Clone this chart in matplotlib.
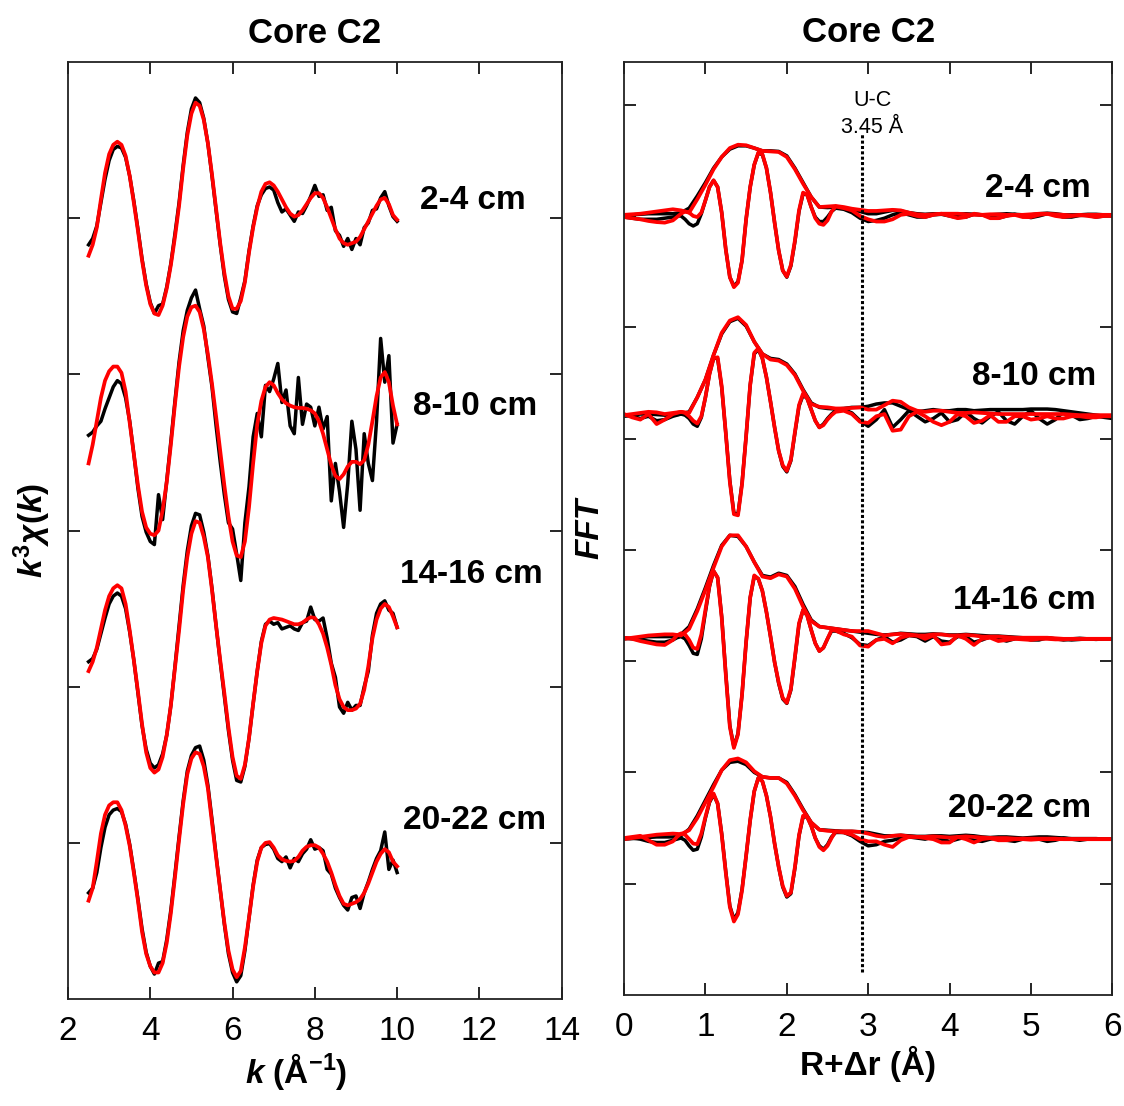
import numpy as np
import matplotlib
matplotlib.use("Agg")
import matplotlib.pyplot as plt

plt.rcParams['font.family'] = ['Liberation Sans', 'DejaVu Sans']
plt.rcParams['mathtext.fontset'] = 'custom'
plt.rcParams['mathtext.rm'] = 'Liberation Sans:bold'
plt.rcParams['mathtext.it'] = 'Liberation Sans:italic:bold'
plt.rcParams['mathtext.bf'] = 'Liberation Sans:bold'

# ---------------- data ----------------
samples = ["2-4 cm", "8-10 cm", "14-16 cm", "20-22 cm"]

# k grid 2.5 .. 10.0 step 0.1 (76 points)
k = np.round(np.arange(2.5, 10.001, 0.1), 2)
chi_offsets = [5.0, 3.65, 2.25, 0.85]

chi_fit_2_4 = [
    -0.24, -0.17, -0.06, 0.12, 0.29, 0.41, 0.47, 0.49, 0.47, 0.40,
    0.27, 0.10, -0.08, -0.27, -0.43, -0.55, -0.61, -0.62, -0.56, -0.45,
    -0.30, -0.12, 0.08, 0.32, 0.53, 0.67, 0.74, 0.72, 0.63, 0.48,
    0.28, 0.06, -0.16, -0.35, -0.50, -0.58, -0.58, -0.53, -0.41, -0.22,
    -0.06, 0.07, 0.17, 0.22, 0.23, 0.21, 0.17, 0.12, 0.07, 0.03,
    0.01, 0.02, 0.05, 0.09, 0.13, 0.16, 0.16, 0.13, 0.07, 0.00,
    -0.07, -0.13, -0.16, -0.17, -0.16, -0.15, -0.12, -0.07, -0.02, 0.03,
    0.08, 0.12, 0.13, 0.09, 0.02, -0.01]
chi_dat_2_4 = [
    -0.17, -0.13, -0.05, 0.10, 0.25, 0.37, 0.44, 0.46, 0.45, 0.39,
    0.27, 0.11, -0.07, -0.26, -0.42, -0.54, -0.61, -0.56, -0.55, -0.44,
    -0.29, -0.10, 0.10, 0.34, 0.55, 0.70, 0.77, 0.74, 0.64, 0.48,
    0.27, 0.05, -0.17, -0.37, -0.52, -0.60, -0.61, -0.51, -0.40, -0.21,
    -0.05, 0.08, 0.15, 0.19, 0.20, 0.18, 0.10, 0.04, 0.06, 0.02,
    -0.02, 0.04, 0.03, 0.08, 0.14, 0.21, 0.14, 0.15, 0.05, 0.07,
    -0.08, -0.11, -0.18, -0.13, -0.20, -0.13, -0.17, -0.06, -0.03, 0.05,
    0.06, 0.13, 0.17, 0.08, 0.01, -0.02]

chi_fit_8_10 = [
    -0.22, -0.10, 0.05, 0.20, 0.31, 0.37, 0.40, 0.40, 0.36, 0.24,
    0.04, -0.16, -0.36, -0.53, -0.63, -0.67, -0.68, -0.65, -0.52, -0.34,
    -0.10, 0.16, 0.40, 0.59, 0.72, 0.78, 0.79, 0.75, 0.64, 0.48,
    0.29, 0.08, -0.14, -0.36, -0.56, -0.72, -0.81, -0.82, -0.72, -0.50,
    -0.22, 0.03, 0.18, 0.27, 0.30, 0.28, 0.23, 0.19, 0.165, 0.15,
    0.14, 0.135, 0.135, 0.13, 0.12, 0.10, 0.05, -0.03, -0.13, -0.23,
    -0.30, -0.32, -0.29, -0.24, -0.21, -0.21, -0.225, -0.20, -0.10, 0.05,
    0.21, 0.33, 0.365, 0.30, 0.15, 0.03]
chi_dat_8_10 = [
    -0.04, -0.02, 0.02, 0.05, 0.13, 0.20, 0.27, 0.31, 0.29, 0.20,
    0.05, -0.16, -0.38, -0.56, -0.66, -0.72, -0.74, -0.42, -0.58, -0.33,
    -0.08, 0.18, 0.43, 0.63, 0.76, 0.84, 0.89, 0.77, 0.66, 0.46,
    0.27, 0.02, -0.21, -0.42, -0.60, -0.64, -0.80, -0.97, -0.60, -0.37,
    -0.05, 0.10, -0.05, 0.28, 0.24, 0.32, 0.42, 0.17, 0.25, 0.02,
    -0.03, 0.33, 0.03, 0.16, 0.14, 0.02, 0.14, 0.00, 0.08, -0.46,
    -0.22, -0.40, -0.63, -0.35, 0.05, -0.13, -0.52, -0.03, -0.22, -0.33,
    0.05, 0.58, 0.30, 0.47, -0.09, 0.03]

chi_fit_14_16 = [
    -0.15, -0.09, 0.00, 0.12, 0.24, 0.33, 0.38, 0.40, 0.38, 0.28,
    0.11, -0.08, -0.28, -0.49, -0.67, -0.77, -0.80, -0.78, -0.70, -0.56,
    -0.37, -0.13, 0.11, 0.37, 0.58, 0.73, 0.81, 0.80, 0.71, 0.58,
    0.37, 0.14, -0.08, -0.29, -0.51, -0.70, -0.82, -0.84, -0.75, -0.58,
    -0.36, -0.15, 0.03, 0.14, 0.18, 0.19, 0.185, 0.18, 0.17, 0.16,
    0.15, 0.15, 0.16, 0.18, 0.195, 0.19, 0.15, 0.09, 0.00, -0.11,
    -0.24, -0.33, -0.38, -0.40, -0.40, -0.39, -0.36, -0.27, -0.12, 0.06,
    0.18, 0.25, 0.28, 0.26, 0.20, 0.13]
chi_dat_14_16 = [
    -0.09, -0.07, -0.01, 0.09, 0.19, 0.28, 0.33, 0.35, 0.33, 0.25,
    0.10, -0.08, -0.29, -0.50, -0.65, -0.74, -0.77, -0.75, -0.68, -0.56,
    -0.37, -0.12, 0.14, 0.40, 0.62, 0.78, 0.86, 0.85, 0.74, 0.59,
    0.38, 0.14, -0.09, -0.31, -0.53, -0.72, -0.85, -0.86, -0.76, -0.58,
    -0.36, -0.15, 0.04, 0.15, 0.17, 0.15, 0.16, 0.12, 0.13, 0.14,
    0.12, 0.11, 0.16, 0.17, 0.26, 0.18, 0.17, 0.19, 0.06, -0.10,
    -0.19, -0.38, -0.42, -0.35, -0.40, -0.37, -0.37, -0.25, -0.15, 0.08,
    0.22, 0.28, 0.30, 0.24, 0.22, 0.13]

chi_fit_20_22 = [
    -0.22, -0.14, 0.03, 0.21, 0.33, 0.39, 0.41, 0.41, 0.36, 0.26,
    0.13, -0.04, -0.22, -0.42, -0.56, -0.64, -0.68, -0.68, -0.62, -0.49,
    -0.30, -0.07, 0.17, 0.40, 0.59, 0.69, 0.73, 0.72, 0.64, 0.50,
    0.28, 0.06, -0.15, -0.36, -0.54, -0.66, -0.71, -0.67, -0.52, -0.33,
    -0.13, 0.03, 0.12, 0.15, 0.155, 0.12, 0.07, 0.045, 0.035, 0.03,
    0.035, 0.06, 0.10, 0.125, 0.135, 0.135, 0.12, 0.08, 0.03, -0.04,
    -0.12, -0.19, -0.24, -0.25, -0.24, -0.23, -0.21, -0.17, -0.11, -0.04,
    0.03, 0.08, 0.11, 0.09, 0.03, 0.00]
chi_dat_20_22 = [
    -0.17, -0.14, -0.04, 0.12, 0.25, 0.33, 0.36, 0.37, 0.35, 0.27,
    0.14, -0.03, -0.21, -0.40, -0.55, -0.64, -0.69, -0.62, -0.61, -0.47,
    -0.28, -0.05, 0.19, 0.42, 0.61, 0.71, 0.76, 0.77, 0.68, 0.52,
    0.30, 0.07, -0.15, -0.37, -0.56, -0.68, -0.74, -0.70, -0.54, -0.33,
    -0.12, 0.04, 0.12, 0.14, 0.145, 0.11, 0.05, 0.03, 0.06, -0.01,
    0.05, 0.03, 0.08, 0.11, 0.17, 0.11, 0.12, 0.10, -0.02, -0.05,
    -0.14, -0.20, -0.25, -0.28, -0.20, -0.19, -0.27, -0.17, -0.10, -0.02,
    0.05, 0.10, 0.22, -0.02, 0.04, -0.04]

# R grids for Fourier transform
R_mag = np.round(np.arange(0.0, 6.001, 0.1), 3)                      # 61
R_im = np.round(np.concatenate([np.arange(0.0, 0.601, 0.1),
                                np.arange(0.65, 2.601, 0.05),
                                np.arange(2.7, 6.001, 0.1)]), 3)      # 81
ft_offsets = [7.0, 5.2, 3.2, 1.4]

mag_fit_2_4 = [
    0.01, 0.015, 0.02, 0.03, 0.04, 0.05, 0.06, 0.05, 0.03, 0.15,
    0.28, 0.42, 0.53, 0.61, 0.64, 0.635, 0.61, 0.585, 0.58, 0.575,
    0.53, 0.42, 0.29, 0.17, 0.08, 0.085, 0.09, 0.08, 0.065, 0.055,
    0.045, 0.045, 0.05, 0.055, 0.05, 0.03, 0.015, 0.01, 0.015, 0.02,
    0.02, 0.02, 0.015, 0.01, 0.01, 0.015, 0.015, 0.01, 0.01, 0.01,
    0.015, 0.02, 0.02, 0.015, 0.01, 0.005, 0.005, 0.01, 0.01, 0.01,
    0.01]
mag_dat_2_4 = [
    0.01, 0.01, 0.015, 0.02, 0.02, 0.02, 0.02, 0.03, 0.07, 0.18,
    0.30, 0.43, 0.53, 0.60, 0.63, 0.63, 0.61, 0.585, 0.585, 0.58,
    0.54, 0.43, 0.30, 0.17, 0.08, 0.075, 0.08, 0.07, 0.06, 0.04,
    0.02, 0.02, 0.035, 0.05, 0.045, 0.03, 0.02, 0.015, 0.02, 0.02,
    0.015, 0.015, 0.02, 0.015, 0.01, 0.01, 0.015, 0.02, 0.015, 0.01,
    0.01, 0.02, 0.025, 0.02, 0.01, 0.01, 0.01, 0.015, 0.015, 0.01,
    0.005]
im_fit_2_4 = [
    -0.01, -0.02, -0.03, -0.045, -0.055, -0.06, -0.04,
    -0.01, 0.02, 0.04, 0.03, 0.0, -0.01, 0.03, 0.14, 0.26, 0.32,
    0.26, 0.03, -0.30, -0.55, -0.64, -0.60, -0.40, -0.03, 0.26, 0.46,
    0.57, 0.555, 0.43, 0.21, -0.06, -0.31, -0.49, -0.545, -0.44, -0.22,
    0.05, 0.21, 0.19, 0.08, -0.02, -0.07, -0.08, -0.04, 0.04, 0.085,
    0.07, 0.05, 0.0, -0.03, -0.05, -0.05, -0.03, 0.01, 0.02, 0.0,
    -0.01, 0.01, 0.02, 0.0, -0.02, -0.01, 0.02, 0.01, -0.02, -0.02,
    0.0, 0.01, -0.01, -0.01, 0.01, 0.02, 0.0, -0.01, 0.0, 0.01,
    0.0, -0.01, 0.0, 0.0]
im_dat_2_4 = [
    -0.01, -0.02, -0.03, -0.03, -0.03, -0.02, -0.01,
    0.0, 0.0, -0.03, -0.07, -0.09, -0.07, 0.02, 0.14, 0.26, 0.32,
    0.26, 0.03, -0.30, -0.55, -0.63, -0.59, -0.40, -0.03, 0.26, 0.46,
    0.565, 0.55, 0.43, 0.21, -0.06, -0.31, -0.49, -0.55, -0.45, -0.23,
    0.04, 0.20, 0.19, 0.08, -0.01, -0.05, -0.05, -0.01, 0.04, 0.07,
    0.06, 0.03, -0.02, -0.05, -0.04, -0.02, 0.01, 0.03, 0.01, -0.01,
    -0.01, 0.01, 0.015, 0.0, -0.015, -0.01, 0.015, 0.01, -0.01, -0.02,
    0.0, 0.015, 0.0, -0.015, 0.0, 0.02, 0.01, -0.01, -0.01, 0.005,
    0.005, -0.01, 0.0, 0.0]

mag_fit_8_10 = [
    0.01, 0.02, 0.03, 0.04, 0.035, 0.02, 0.03, 0.04, 0.03, 0.17,
    0.33, 0.55, 0.75, 0.86, 0.89, 0.82, 0.67, 0.56, 0.51, 0.50,
    0.46, 0.37, 0.23, 0.11, 0.085, 0.08, 0.07, 0.07, 0.075, 0.08,
    0.06, 0.06, 0.10, 0.14, 0.13, 0.08, 0.05, 0.04, 0.05, 0.05,
    0.04, 0.03, 0.03, 0.035, 0.03, 0.025, 0.02, 0.02, 0.02, 0.02,
    0.02, 0.02, 0.02, 0.02, 0.02, 0.015, 0.01, 0.01, 0.01, 0.01,
    0.01]
mag_dat_8_10 = [
    0.0, 0.01, 0.02, 0.02, 0.015, 0.01, 0.01, 0.02, 0.04, 0.17,
    0.33, 0.55, 0.74, 0.85, 0.88, 0.81, 0.67, 0.56, 0.52, 0.51,
    0.47, 0.38, 0.24, 0.12, 0.08, 0.07, 0.065, 0.07, 0.08, 0.08,
    0.09, 0.11, 0.12, 0.12, 0.09, 0.06, 0.04, 0.05, 0.06, 0.05,
    0.05, 0.06, 0.06, 0.05, 0.055, 0.06, 0.06, 0.06, 0.06, 0.06,
    0.065, 0.065, 0.065, 0.06, 0.05, 0.04, 0.03, 0.02, 0.01, 0.0,
    0.0]
im_fit_8_10 = [
    0.02, -0.01, -0.03, 0.02, -0.07, -0.03, 0.02,
    0.03, 0.04, 0.03, 0.0, -0.04, -0.065, 0.0, 0.17, 0.38, 0.52,
    0.53, 0.27, -0.15, -0.59, -0.88, -0.89, -0.61, -0.18, 0.28, 0.57,
    0.61, 0.52, 0.35, 0.13, -0.10, -0.31, -0.44, -0.49, -0.39, -0.14,
    0.10, 0.205, 0.16, 0.06, -0.04, -0.10, -0.08, -0.03, 0.01, 0.04,
    0.05, 0.02, -0.05, -0.06, 0.0, 0.02, -0.13, -0.12, 0.0, 0.04,
    0.0, -0.05, -0.08, -0.05, 0.02, 0.0, -0.06, -0.04, 0.01, -0.05,
    -0.05, 0.0, 0.0, -0.03, -0.02, 0.0, -0.02, -0.02, 0.0, 0.0,
    -0.01, -0.01, 0.0, 0.0]
im_dat_8_10 = [
    0.01, 0.0, -0.02, 0.0, -0.04, -0.03, 0.0,
    0.01, 0.02, 0.01, -0.02, -0.07, -0.09, -0.01, 0.17, 0.38, 0.52,
    0.52, 0.26, -0.15, -0.58, -0.87, -0.88, -0.60, -0.18, 0.28, 0.56,
    0.60, 0.52, 0.35, 0.13, -0.10, -0.31, -0.45, -0.50, -0.40, -0.15,
    0.09, 0.19, 0.16, 0.06, -0.04, -0.10, -0.07, -0.02, 0.02, 0.05,
    0.06, 0.03, -0.04, -0.09, -0.03, 0.06, -0.10, -0.03, 0.05, 0.0,
    -0.05, -0.02, 0.03, -0.05, -0.03, 0.04, -0.02, -0.06, 0.0, 0.04,
    -0.04, -0.07, 0.0, 0.05, -0.02, -0.07, -0.03, 0.04, 0.01, -0.03,
    -0.02, 0.0, -0.01, -0.02]

mag_fit_14_16 = [
    0.0, 0.01, 0.02, 0.03, 0.035, 0.04, 0.04, 0.03, 0.09, 0.25,
    0.44, 0.64, 0.83, 0.93, 0.93, 0.83, 0.69, 0.56, 0.545, 0.58,
    0.56, 0.45, 0.29, 0.16, 0.11, 0.10, 0.09, 0.08, 0.07, 0.07,
    0.07, 0.05, 0.03, 0.04, 0.045, 0.04, 0.03, 0.03, 0.04, 0.04,
    0.03, 0.03, 0.035, 0.03, 0.02, 0.02, 0.02, 0.015, 0.01, 0.01,
    0.01, 0.01, 0.01, 0.005, 0.0, 0.0, 0.0, 0.0, 0.0, 0.0,
    0.0]
mag_dat_14_16 = [
    0.0, 0.005, 0.01, 0.02, 0.02, 0.02, 0.02, 0.04, 0.11, 0.27,
    0.46, 0.66, 0.84, 0.93, 0.92, 0.83, 0.69, 0.57, 0.555, 0.59,
    0.57, 0.47, 0.31, 0.17, 0.11, 0.10, 0.09, 0.08, 0.07, 0.06,
    0.05, 0.04, 0.035, 0.04, 0.05, 0.045, 0.04, 0.04, 0.045, 0.04,
    0.035, 0.035, 0.04, 0.035, 0.03, 0.025, 0.025, 0.02, 0.015, 0.01,
    0.01, 0.005, 0.005, 0.0, -0.005, -0.01, -0.005, 0.0, 0.0, 0.0,
    0.0]
im_fit_14_16 = [
    0.01, 0.0, -0.02, -0.035, -0.05, -0.055, -0.01,
    0.03, 0.05, 0.04, -0.01, -0.08, -0.09, 0.04, 0.26, 0.48, 0.61,
    0.55, 0.19, -0.32, -0.79, -0.98, -0.86, -0.50, -0.03, 0.37, 0.57,
    0.54, 0.43, 0.24, 0.02, -0.21, -0.39, -0.53, -0.575, -0.45, -0.16,
    0.14, 0.26, 0.21, 0.08, -0.04, -0.11, -0.08, 0.0, 0.08, 0.075,
    0.04, 0.02, -0.06, -0.07, -0.01, 0.0, -0.04, 0.01, 0.03, 0.03,
    0.0, 0.03, -0.05, -0.04, 0.03, 0.0, -0.055, 0.0, 0.01, -0.02,
    -0.01, 0.0, -0.005, -0.01, 0.0, 0.0, -0.005, -0.005, 0.0, 0.0,
    0.0, 0.0, 0.0, 0.0]
im_dat_14_16 = [
    0.01, 0.0, -0.01, -0.02, -0.03, -0.03, -0.01,
    0.01, 0.02, 0.0, -0.06, -0.13, -0.14, 0.0, 0.24, 0.47, 0.61,
    0.55, 0.20, -0.31, -0.78, -0.97, -0.85, -0.50, -0.03, 0.37, 0.56,
    0.54, 0.43, 0.24, 0.02, -0.21, -0.40, -0.54, -0.58, -0.46, -0.17,
    0.13, 0.26, 0.21, 0.08, -0.04, -0.11, -0.08, 0.0, 0.07, 0.07,
    0.05, 0.01, -0.05, -0.06, -0.01, 0.02, -0.03, -0.01, 0.03, 0.02,
    -0.02, 0.02, -0.02, -0.03, 0.02, 0.02, -0.03, -0.01, 0.02, 0.0,
    -0.02, 0.0, 0.01, -0.01, -0.01, 0.01, 0.0, -0.01, 0.0, 0.005,
    0.0, -0.005, 0.0, 0.0]

mag_fit_20_22 = [
    0.0, 0.01, 0.02, 0.03, 0.04, 0.045, 0.05, 0.045, 0.08, 0.19,
    0.33, 0.47, 0.62, 0.71, 0.725, 0.69, 0.61, 0.56, 0.55, 0.55,
    0.50, 0.39, 0.26, 0.15, 0.085, 0.075, 0.07, 0.07, 0.07, 0.065,
    0.05, 0.03, 0.02, 0.03, 0.035, 0.025, 0.02, 0.02, 0.025, 0.02,
    0.015, 0.02, 0.025, 0.02, 0.015, 0.01, 0.01, 0.01, 0.005, 0.005,
    0.005, 0.005, 0.005, 0.005, 0.0, 0.0, 0.0, 0.0, 0.0, 0.0,
    0.0]
mag_dat_20_22 = [
    0.0, 0.005, 0.01, 0.015, 0.02, 0.02, 0.02, 0.03, 0.09, 0.21,
    0.35, 0.49, 0.62, 0.69, 0.70, 0.67, 0.60, 0.56, 0.55, 0.55,
    0.51, 0.40, 0.27, 0.15, 0.085, 0.08, 0.075, 0.07, 0.07, 0.065,
    0.06, 0.045, 0.03, 0.03, 0.035, 0.03, 0.025, 0.025, 0.03, 0.03,
    0.025, 0.03, 0.035, 0.03, 0.02, 0.015, 0.02, 0.02, 0.015, 0.01,
    0.015, 0.02, 0.02, 0.015, 0.01, 0.005, 0.005, 0.005, 0.005, 0.0,
    0.0]
im_fit_20_22 = [
    0.01, 0.02, 0.03, -0.01, -0.05, -0.05, -0.02,
    0.02, 0.05, 0.04, 0.0, -0.04, -0.045, 0.05, 0.20, 0.34, 0.41,
    0.32, 0.04, -0.30, -0.61, -0.74, -0.675, -0.46, -0.15, 0.17, 0.43,
    0.55, 0.52, 0.39, 0.20, -0.04, -0.25, -0.42, -0.51, -0.48, -0.25,
    0.035, 0.21, 0.20, 0.12, 0.01, -0.07, -0.10, -0.06, 0.01, 0.07,
    0.06, 0.04, 0.0, -0.02, -0.02, -0.05, -0.07, -0.01, 0.02, 0.02,
    0.01, 0.0, -0.03, -0.03, 0.02, 0.0, -0.03, 0.0, 0.01, -0.01,
    -0.01, 0.0, 0.0, -0.005, 0.0, 0.0, 0.0, 0.0, 0.0, 0.0,
    0.0, 0.0, 0.0, 0.0]
im_dat_20_22 = [
    0.01, 0.01, 0.0, -0.02, -0.03, -0.03, -0.01,
    0.0, 0.01, -0.01, -0.06, -0.10, -0.09, 0.02, 0.19, 0.33, 0.40,
    0.32, 0.05, -0.29, -0.60, -0.72, -0.66, -0.45, -0.15, 0.17, 0.43,
    0.55, 0.52, 0.39, 0.20, -0.04, -0.25, -0.43, -0.52, -0.49, -0.26,
    0.03, 0.20, 0.20, 0.12, 0.01, -0.06, -0.09, -0.05, 0.02, 0.06,
    0.06, 0.03, -0.02, -0.06, -0.05, -0.02, -0.01, 0.01, 0.02, 0.01,
    0.0, 0.02, 0.0, -0.02, 0.0, 0.02, -0.01, -0.02, 0.0, 0.01,
    -0.01, -0.02, 0.0, 0.01, 0.0, -0.02, -0.01, 0.01, 0.0, -0.01,
    0.0, 0.0, 0.0, 0.0]

chi_fits = [chi_fit_2_4, chi_fit_8_10, chi_fit_14_16, chi_fit_20_22]
chi_data = [chi_dat_2_4, chi_dat_8_10, chi_dat_14_16, chi_dat_20_22]
mag_fits = [mag_fit_2_4, mag_fit_8_10, mag_fit_14_16, mag_fit_20_22]
mag_data = [mag_dat_2_4, mag_dat_8_10, mag_dat_14_16, mag_dat_20_22]
im_fits = [im_fit_2_4, im_fit_8_10, im_fit_14_16, im_fit_20_22]
im_data = [im_dat_2_4, im_dat_8_10, im_dat_14_16, im_dat_20_22]

# label anchors (data coords)
chi_label_xy = [(10.56, 5.06), (10.38, 3.74), (10.07, 2.665), (10.14, 1.086)]
ft_label_xy = [(4.435, 7.167), (4.27, 5.48), (4.04, 3.468), (3.98, 1.602)]
uc_R = 2.93

# ---------------- figure ----------------
fig = plt.figure(figsize=(11.24, 11.06), dpi=100)
ax1 = fig.add_axes([0.0605, 0.0967, 0.4392, 0.8472])
ax2 = fig.add_axes([0.5552, 0.1004, 0.4344, 0.8438])

LW_D, LW_F = 2.5, 2.7
for off, d, f in zip(chi_offsets, chi_data, chi_fits):
    ax1.plot(k, off + np.array(d), color='black', lw=LW_D, solid_joinstyle='round')
    ax1.plot(k, off + np.array(f), color='#ff0000', lw=LW_F, solid_joinstyle='round')
for (x, y), s in zip(chi_label_xy, samples):
    ax1.text(x, y, s, fontsize=24, fontweight='bold', ha='left', va='baseline')

for off, md, idd in zip(ft_offsets, mag_data, im_data):
    ax2.plot(R_mag, off + np.array(md), color='black', lw=LW_D, solid_joinstyle='round')
    ax2.plot(R_im, off + np.array(idd), color='black', lw=LW_D, solid_joinstyle='round')
for off, mf, imf in zip(ft_offsets, mag_fits, im_fits):
    ax2.plot(R_mag, off + np.array(mf), color='#ff0000', lw=LW_F, solid_joinstyle='round')
    ax2.plot(R_im, off + np.array(imf), color='#ff0000', lw=LW_F, solid_joinstyle='round')
for (x, y), s in zip(ft_label_xy, samples):
    ax2.text(x, y, s, fontsize=24, fontweight='bold', ha='left', va='baseline')

ax2.plot([uc_R, uc_R], [0.21, 7.74], color='black', lw=2.2, linestyle=(0, (1.0, 0.75)))
ax2.text(3.05, 7.99, "U-C", fontsize=15.5, ha='center', va='baseline')
ax2.text(3.05, 7.747, "3.45 Å", fontsize=15.5, ha='center', va='baseline')

# axes styling
ax1.set_xlim(2, 14)
ax1.set_ylim(0, 6)
ax1.set_xticks(range(2, 15, 2))
ax1.set_yticks([1, 2, 3, 4, 5])
ax2.set_xlim(0, 6)
ax2.set_ylim(0, 8.386)
ax2.set_xticks(range(0, 7))
ax2.set_yticks(range(1, 9))

for ax in (ax1, ax2):
    ax.tick_params(direction='in', length=8.6, width=1.2, top=True, right=True,
                   labelleft=False, labelsize=24, pad=12, colors='black')
    for sp in ax.spines.values():
        sp.set_linewidth(1.3)
        sp.set_color('#222222')
    ax.set_title("Core C2", fontsize=25, fontweight='bold', pad=14)

ax1.set_xlabel(r"$k$ (Å$^{-1}$)", fontsize=24, fontweight='bold')
ax1.xaxis.set_label_coords(0.462, -0.055, transform=ax1.transAxes)
ax1.set_ylabel(r"$k^{3}\chi(k)$", fontsize=24, fontweight='bold')
ax1.yaxis.set_label_coords(-0.03, 0.5)

ax2.set_xlabel("R+Δr (Å)", fontsize=24, fontweight='bold')
ax2.xaxis.set_label_coords(0.5, -0.055)
ax2.set_ylabel("FFT", fontsize=24, fontweight='bold', fontstyle='italic')
ax2.yaxis.set_label_coords(-0.038, 0.5)

fig.savefig("out.png", dpi=100, facecolor='white')
